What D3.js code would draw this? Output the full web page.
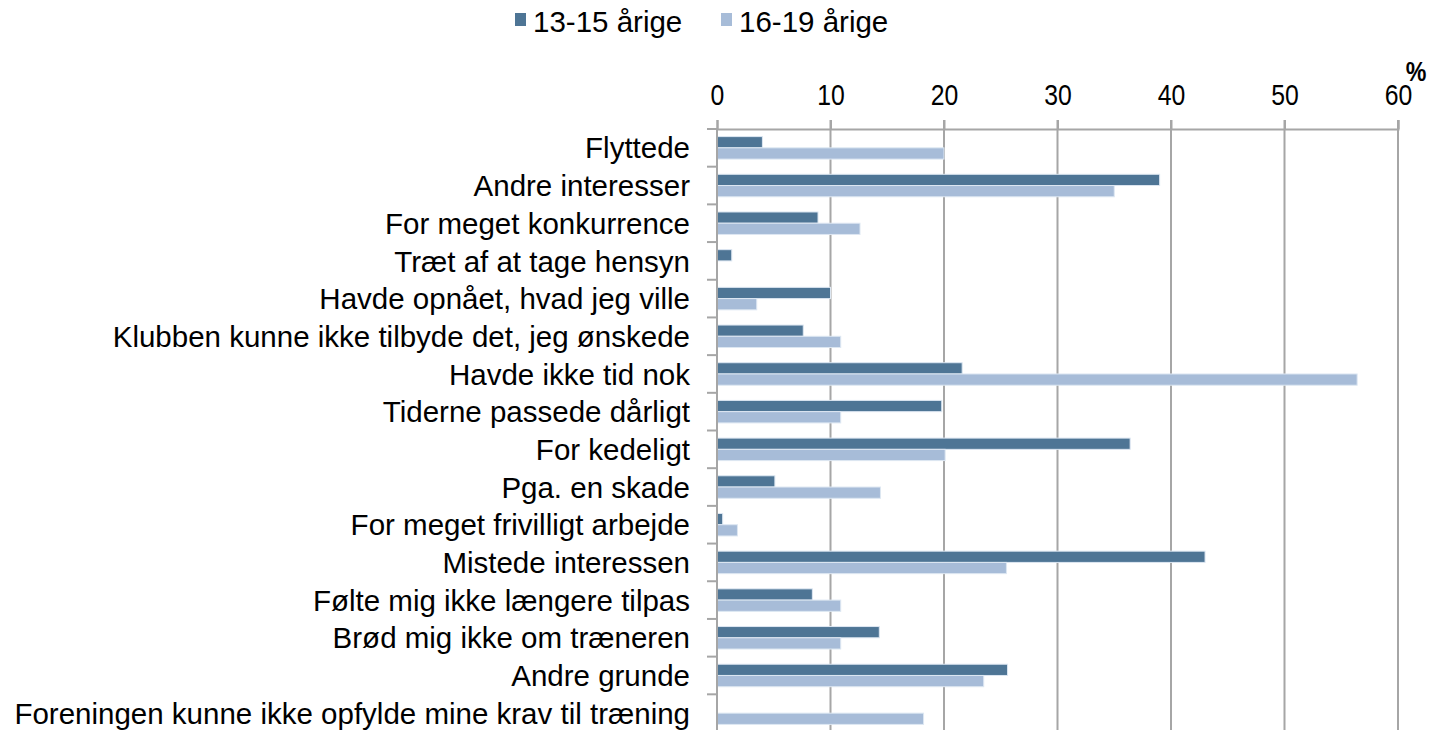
<!DOCTYPE html>
<html>
<head>
<meta charset="utf-8">
<script src="https://cdn.jsdelivr.net/npm/d3@7"></script>
<style>
  body { margin: 0; background: #fff; }
  svg { display: block; font-family: "Liberation Sans", Arial, sans-serif; }
</style>
</head>
<body>
<svg id="grafico" width="1433" height="730"></svg>
<script>
// grunde til at stoppe (andel i %)
const kategorier = [
    "Flyttede",
    "Andre interesser",
    "For meget konkurrence",
    "Træt af at tage hensyn",
    "Havde opnået, hvad jeg ville",
    "Klubben kunne ikke tilbyde det, jeg ønskede",
    "Havde ikke tid nok",
    "Tiderne passede dårligt",
    "For kedeligt",
    "Pga. en skade",
    "For meget frivilligt arbejde",
    "Mistede interessen",
    "Følte mig ikke længere tilpas",
    "Brød mig ikke om træneren",
    "Andre grunde",
    "Foreningen kunne ikke opfylde mine krav til træning"
];
const serier = ["13-15 årige", "16-19 årige"];
const aar13_15 = [4, 39, 8.9, 1.3, 10, 7.6, 21.6, 19.8, 36.4, 5.1, 0.5, 43, 8.4, 14.3, 25.6, 0];
const aar16_19 = [20, 35, 12.6, 0, 3.5, 10.9, 56.4, 10.9, 20.1, 14.4, 1.8, 25.5, 10.9, 10.9, 23.5, 18.2];
const xTicks = [0, 10, 20, 30, 40, 50, 60];

const farver = ["#4e7595", "#a7bcd8"];
const graa = "#a6a6a6";

var svg = d3.select("#grafico");

var venstre = 717, hoejre = 1398, yTop = 129, yBund = 732;

var x = d3.scaleLinear().domain([0, 60]).range([venstre, hoejre]);
var y = d3.scaleBand().domain(kategorier).range([yTop, yBund]);
var ySub = d3.scaleBand().domain(serier).range([7.6, y.bandwidth() - 7.6]);

// gitterlinjer (går lidt over aksen som tick-mærker)
svg.append("g")
    .selectAll("line")
    .data(xTicks.slice(1))
    .enter()
    .append("line")
    .attr("x1", d => x(d)).attr("x2", d => x(d))
    .attr("y1", yTop - 9).attr("y2", 730)
    .attr("stroke", graa)
    .attr("stroke-width", 2);

// x-akse øverst (smal skrift, som i originalen)
var xAkse = svg.append("g")
    .attr("transform", "translate(0," + yTop + ")")
    .call(d3.axisTop(x).tickValues(xTicks).tickSize(9).tickPadding(15));
xAkse.select(".domain").attr("stroke", graa).attr("stroke-width", 2);
xAkse.selectAll(".tick line").attr("stroke", graa).attr("stroke-width", 2);
xAkse.selectAll(".tick text")
    .attr("fill", "#000")
    .attr("transform", "scale(0.84,1)")
    .style("font-size", "29.5px");

svg.append("text")
    .attr("transform", "translate(1416,81) scale(0.86,1)")
    .attr("text-anchor", "middle")
    .style("font-size", "27px")
    .style("font-weight", "bold")
    .text("%");

// søjler
var grupper = svg.append("g")
    .selectAll("g")
    .data(kategorier)
    .enter()
    .append("g")
    .attr("transform", d => "translate(0," + y(d) + ")");

grupper.selectAll("rect")
    .data((d, i) => [
        { serie: serier[0], v: aar13_15[i] },
        { serie: serier[1], v: aar16_19[i] }
    ])
    .enter()
    .append("rect")
    .attr("x", x(0))
    .attr("y", d => ySub(d.serie))
    .attr("width", d => Math.max(0, x(d.v) - x(0)))
    .attr("height", ySub.bandwidth())
    .attr("fill", (d, i) => farver[i])
    .attr("stroke", d => d.v > 0 ? "#dde7f2" : "none")
    .attr("stroke-width", 1);

// y-akse til venstre
var yAkse = svg.append("g")
    .attr("transform", "translate(" + venstre + ",0)");
yAkse.append("line")
    .attr("x1", 0).attr("x2", 0)
    .attr("y1", yTop).attr("y2", 730)
    .attr("stroke", graa).attr("stroke-width", 2);
yAkse.selectAll("line.tik")
    .data(kategorier)
    .enter()
    .append("line")
    .attr("class", "tik")
    .attr("x1", -10).attr("x2", 0)
    .attr("y1", d => y(d)).attr("y2", d => y(d))
    .attr("stroke", graa).attr("stroke-width", 2);

svg.append("g")
    .selectAll("text")
    .data(kategorier)
    .enter()
    .append("text")
    .attr("x", 690)
    .attr("y", d => y(d) + y.bandwidth() / 2)
    .attr("dy", "0.36em")
    .attr("text-anchor", "end")
    .style("font-size", "29.5px")
    .text(d => d);

// legende
var legende = svg.append("g");
var legPos = [515, 721];
serier.forEach(function (s, i) {
    legende.append("rect")
        .attr("x", legPos[i]).attr("y", 13)
        .attr("width", 11).attr("height", 13)
        .attr("fill", farver[i]);
    legende.append("text")
        .attr("x", legPos[i] + 18)
        .attr("y", 32)
        .style("font-size", "29.5px")
        .text(s);
});
</script>
</body>
</html>
